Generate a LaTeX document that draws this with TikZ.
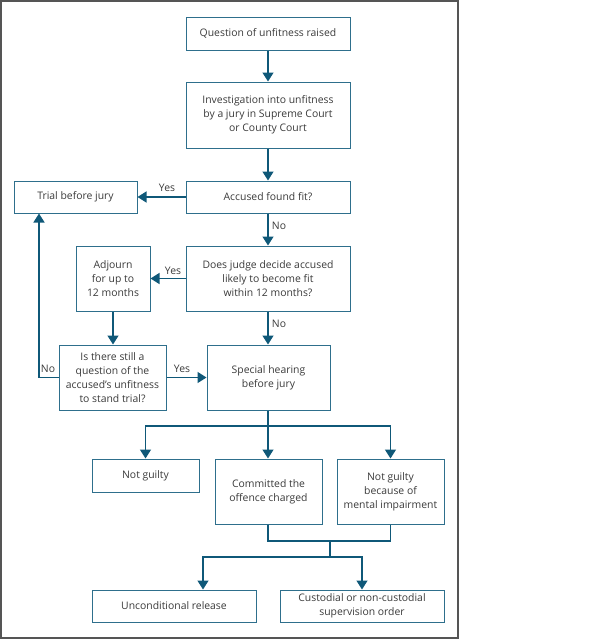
\documentclass[tikz,border=0pt]{standalone}
\usepackage{fontspec}
\setmainfont{Open Sans}
\usetikzlibrary{arrows.meta}
\definecolor{boxc}{HTML}{2E6F8C}
\definecolor{arrc}{HTML}{0F5878}
\definecolor{txtc}{HTML}{3A3A3A}
\definecolor{framec}{HTML}{555555}
\begin{document}
\begin{tikzpicture}[x=1pt,y=-1pt,
  bx/.style={draw=boxc,line width=1pt,align=center,text=txtc,inner sep=1pt,
    font=\fontsize{10.4}{14}\selectfont},
  con/.style={draw=arrc,line width=1.4pt},
  arr/.style={con,-{Triangle[width=11pt,length=9pt]}},
  lab/.style={text=txtc,font=\fontsize{10.4}{12}\selectfont,inner sep=0pt}]
\useasboundingbox (0,0) rectangle (600,640);
\draw[framec,line width=1.5pt] (0.75,0.75) rectangle (458,638);
\node[bx,minimum width=164pt,minimum height=33pt] (q) at (268,33.5) {Question of unfitness raised};
\node[bx,minimum width=164pt,minimum height=66pt] (inv) at (268,115) {Investigation into unfitness\\by a jury in Supreme Court\\or County Court};
\node[bx,minimum width=164pt,minimum height=32pt] (fit) at (268,197) {Accused found fit?};
\node[bx,minimum width=123pt,minimum height=32pt] (trial) at (75.5,197) {Trial before jury};
\node[bx,minimum width=164pt,minimum height=65pt] (judge) at (268,278.5) {Does judge decide accused\\likely to become fit\\within 12 months?};
\node[bx,minimum width=74pt,minimum height=65pt] (adj) at (113,278.5) {Adjourn\\for up to\\12 months};
\node[bx,minimum width=107pt,minimum height=65pt] (still) at (112.5,377.5) {Is there still a\\question of the\\accused’s unfitness\\to stand trial?};
\node[bx,minimum width=123pt,minimum height=65pt] (spec) at (268.5,377.5) {Special hearing\\before jury};
\node[bx,minimum width=107pt,minimum height=33pt] (ng) at (145.5,475.5) {Not guilty};
\node[bx,minimum width=107pt,minimum height=65pt] (comm) at (268.5,491.5) {Committed the\\offence charged};
\node[bx,minimum width=107pt,minimum height=65pt] (ngbmi) at (390.5,491.5) {Not guilty\\because of\\mental impairment};
\node[bx,minimum width=164pt,minimum height=32pt] (ur) at (174,606) {Unconditional release};
\node[bx,minimum width=164pt,minimum height=32pt] (cust) at (362,606) {Custodial or non-custodial\\supervision order};
% connectors
\draw[arr] (q.south) -- (inv.north);
\draw[arr] (inv.south) -- (fit.north);
\draw[arr] (fit.west) -- (trial.east);
\draw[arr] (fit.south) -- (judge.north);
\draw[arr] (judge.west) -- (adj.east);
\draw[arr] (adj.south) -- (still.north -| adj.south);
\draw[arr] (judge.south) -- (judge.south |- spec.north);
\draw[arr] (still.east) -- (spec.west);
\coordinate (lc) at (39,377.5);
\draw[arr] (still.west) -- (lc) -- (lc |- trial.south);
\coordinate (b1) at (268,426);
\draw[con] (spec.south -| b1) -- (b1);
\draw[arr] (b1) -| (ng.north);
\draw[arr] (b1) -- (b1 |- comm.north);
\draw[arr] (b1) -| (ngbmi.north);
\coordinate (m1) at (268,541);
\coordinate (m2) at (330,541);
\coordinate (m3) at (330,557);
\draw[con] (comm.south -| m1) -- (m1) -| (ngbmi.south);
\draw[con] (m2) -- (m3);
\draw[arr] (m3) -| (ur.north -| 203,0);
\draw[arr] (m3) -| (cust.north);
% labels
\node[lab] (ly1) at (167,188) {Yes};
\node[lab] (ln1) at (279,226) {No};
\node[lab] (ly2) at (173,271) {Yes};
\node[lab] (ln2) at (279,324) {No};
\node[lab] (ly3) at (182,369) {Yes};
\node[lab] (ln3) at (48,369) {No};
\end{tikzpicture}
\end{document}
